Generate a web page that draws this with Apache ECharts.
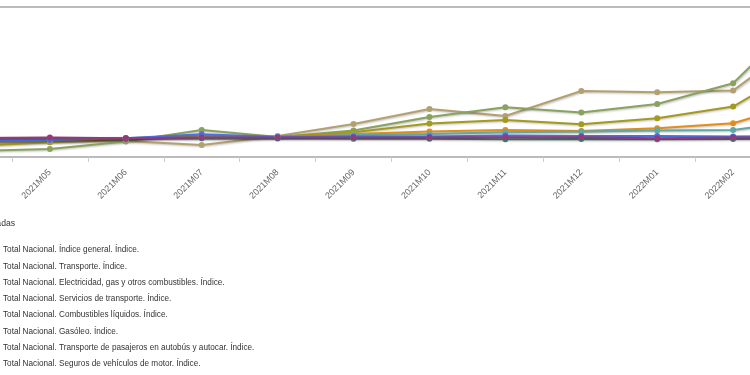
<!DOCTYPE html>
<html>
<head>
<meta charset="utf-8">
<script src="https://cdn.jsdelivr.net/npm/echarts@6/dist/echarts.min.js"></script>
<style>
html,body{margin:0;padding:0;background:#fff;overflow:hidden;width:750px;height:375px;}
#wrap{position:relative;width:750px;height:375px;overflow:hidden;}
#c{position:absolute;left:-64px;top:0;width:911px;height:420px;}
</style>
</head>
<body>
<div id="wrap"><div id="c"></div></div>
<script>
var categories = ['2021M04','2021M05','2021M06','2021M07','2021M08','2021M09','2021M10','2021M11','2021M12','2022M01','2022M02','2022M03'];

var indiceGeneral   = [98.8, 99.0, 99.5, 99.8, 100.0, 101.0, 101.5, 102.4, 102.7, 103.2, 103.5, 108.5];
var transporte      = [97.8, 98.3, 99.4, 100.5, 100.0, 101.5, 102.7, 103.5, 103.0, 104.4, 106.9, 118.0];
var electricidad    = [97.0, 97.5, 98.0, 96.0, 100.5, 106.5, 114.0, 110.5, 123.0, 122.4, 123.2, 151.5];
var serviciosTransp = [98.3, 98.5, 99.4, 101.4, 100.0, 100.2, 100.2, 100.8, 100.5, 100.5, 100.2, 100.5];
var combustiblesLiq = [93.0, 94.0, 97.7, 103.5, 100.0, 103.2, 110.0, 114.9, 112.2, 116.5, 126.9, 164.0];
var gasoleo         = [95.5, 97.4, 99.3, 100.5, 100.0, 102.4, 106.7, 108.5, 106.4, 109.4, 115.2, 137.5];
var autobus         = [99.5, 99.7, 99.4, 99.7, 99.8, 99.7, 99.8, 99.9, 99.9, 99.4, 99.7, 99.8];
var seguros         = [99.0, 99.1, 99.0, 99.4, 99.2, 99.1, 99.1, 98.9, 99.0, 98.9, 99.0, 99.1];

var names = [
  'Total Nacional. Índice general. Índice.',
  'Total Nacional. Transporte. Índice.',
  'Total Nacional. Electricidad, gas y otros combustibles. Índice.',
  'Total Nacional. Servicios de transporte. Índice.',
  'Total Nacional. Combustibles líquidos. Índice.',
  'Total Nacional. Gasóleo. Índice.',
  'Total Nacional. Transporte de pasajeros en autobús y autocar. Índice.',
  'Total Nacional. Seguros de vehículos de motor. Índice.'
];
var colors = ['#5fa8a4', '#e08e1c', '#b3a070', '#4a6fe0', '#89a25e', '#a39a1e', '#943a7c', '#3f7a68'];
var dataSets = [indiceGeneral, transporte, electricidad, serviciosTransp, combustiblesLiq, gasoleo, autobus, seguros];
var drawOrder = [2, 4, 5, 1, 0, 7, 3, 6];

var series = drawOrder.map(function(i){
  return {
    name: names[i],
    type: 'line',
    data: dataSets[i],
    symbol: 'circle',
    symbolSize: 6,
    clip: false,
    itemStyle: {color: colors[i]},
    lineStyle: {width: 2, color: colors[i], shadowColor: 'rgba(0,0,0,0.25)', shadowBlur: 2, shadowOffsetX: 1, shadowOffsetY: 1},
    emphasis: {disabled: true},
    animation: false
  };
});

var chart = echarts.init(document.getElementById('c'));
chart.setOption({
  backgroundColor: '#fff',
  animation: false,
  grid: {left: 0, right: 0, top: 7, bottom: 263, show: true, borderColor: '#bbbbbb', borderWidth: 2},
  xAxis: {
    type: 'category',
    data: categories,
    boundaryGap: true,
    axisLine: {lineStyle: {color: '#bbbbbb', width: 2}},
    axisTick: {show: true, length: 5, lineStyle: {color: '#cccccc'}},
    axisLabel: {rotate: 45, margin: 14, color: '#666666', fontSize: 9, fontFamily: 'Liberation Sans, Arial'},
    splitLine: {show: false}
  },
  yAxis: {
    type: 'value', min: 90, max: 165,
    axisLine: {show: false}, axisTick: {show: false}, axisLabel: {show: false},
    splitLine: {show: false}
  },
  legend: {
    orient: 'vertical',
    left: 31,
    top: 240,
    data: names,
    itemWidth: 25,
    itemHeight: 10,
    itemGap: 6.3,
    textStyle: {fontSize: 8.2, color: '#333333', fontFamily: 'Liberation Sans, Arial', lineHeight: 10}
  },
  graphic: [{
    type: 'text', x: 79, y: 219,
    style: {text: 'Series seleccionadas', fontSize: 8.6, fill: '#333333', fontFamily: 'Liberation Sans, Arial', align: 'right', verticalAlign: 'top'}
  }],
  series: series
});
</script>
</body>
</html>
